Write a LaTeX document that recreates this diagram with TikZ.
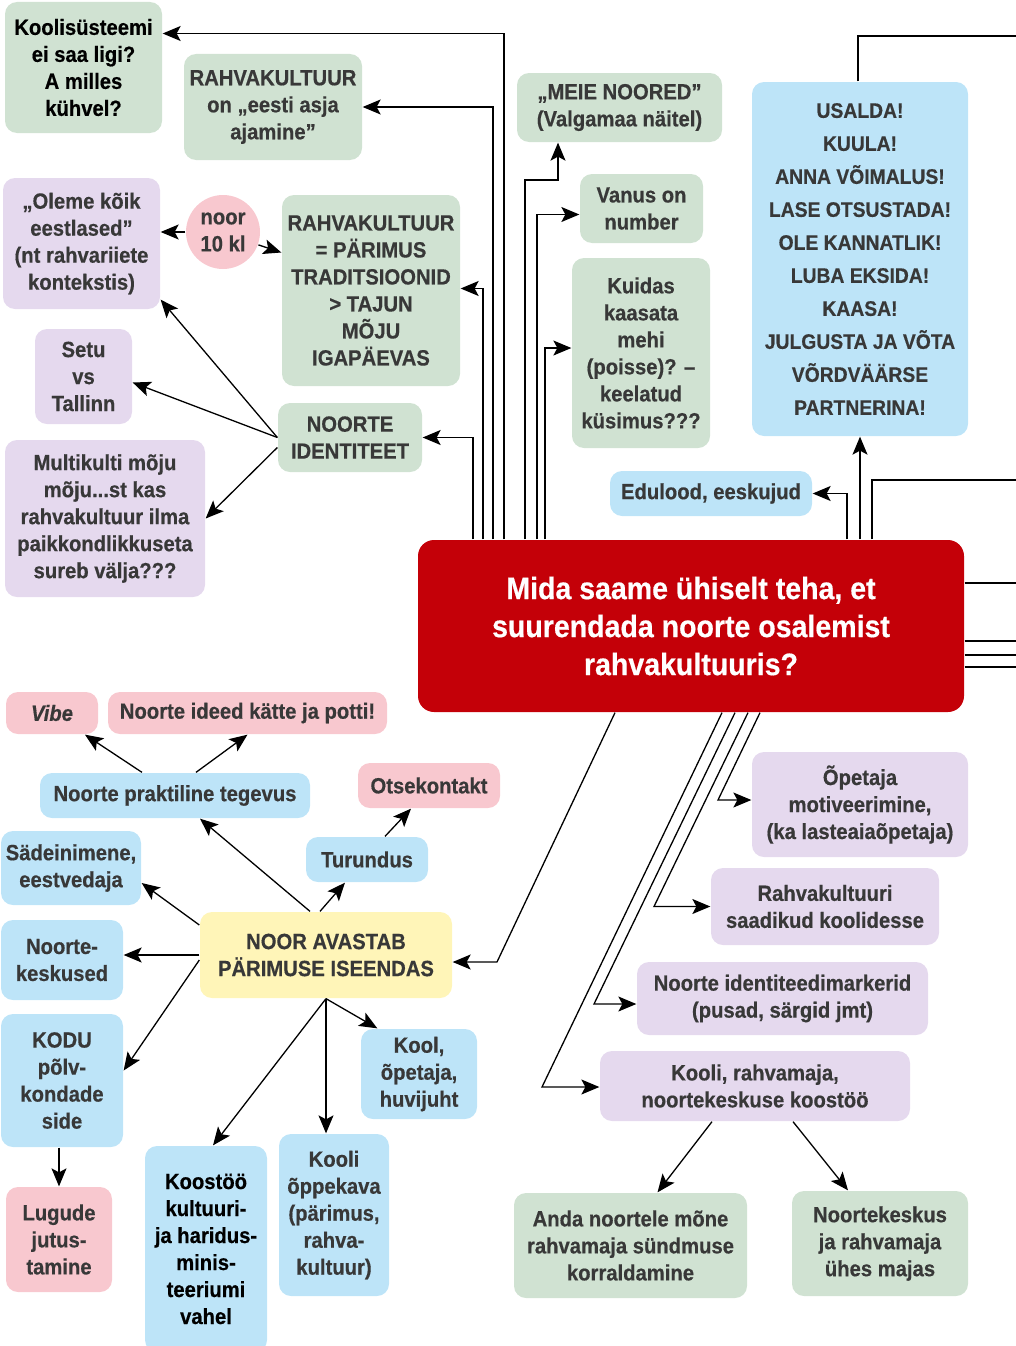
\documentclass[tikz,border=0pt]{standalone}
\usepackage{fontspec}
\setmainfont{Liberation Sans}[FakeStretch=0.92, BoldFeatures={FakeBold=0.5}, BoldItalicFeatures={FakeBold=0.5}]
\usetikzlibrary{arrows.meta}
\definecolor{boxgreen}{HTML}{D0E2D2}
\definecolor{boxpurple}{HTML}{E5D9EE}
\definecolor{boxpink}{HTML}{F8C8CF}
\definecolor{boxblue}{HTML}{BDE4F8}
\definecolor{boxyellow}{HTML}{FFF5B8}
\definecolor{mainred}{HTML}{C40008}
\definecolor{txtgray}{HTML}{383838}
\begin{document}
\begin{tikzpicture}[
    x=1pt,
    y=-1pt,
    -{Stealth[length=18pt,width=15pt,inset=4pt]},
    line width=1.3pt,
    font=\fontsize{22}{27}\selectfont\bfseries,
    sz/.style 2 args={minimum width=#1pt, minimum height=#2pt},
    box/.style={rounded corners=12pt, inner sep=0pt, align=center, text=txtgray},
    gbox/.style={box, fill=boxgreen},
    pbox/.style={box, fill=boxpurple},
    kbox/.style={box, fill=boxpink},
    bbox/.style={box, fill=boxblue},
    ybox/.style={box, fill=boxyellow}
]
\useasboundingbox (0,0) rectangle (1015,1346);
\node[gbox, sz={157}{131}, text=black] (ks) at (83.5,67.5) {Koolisüsteemi\\ei saa ligi?\\A milles\\kühvel?};
\node[gbox, sz={178}{106}] (rke) at (273,107) {RAHVAKULTUUR\\on „eesti asja\\ajamine”};
\node[pbox, sz={157}{131}] (ok) at (81.5,243.5) {„Oleme kõik\\eestlased”\\(nt rahvariiete\\kontekstis)};
\node[circle, fill=boxpink, text=txtgray, minimum size=74pt, inner sep=0pt, align=center] (n10) at (223,232) {noor\\10 kl};
\node[gbox, sz={178}{191}] (rp) at (371,290.5) {RAHVAKULTUUR\\= PÄRIMUS\\TRADITSIOONID\\> TAJUN\\MÕJU\\IGAPÄEVAS};
\node[pbox, sz={97}{95}] (st) at (83.5,376.5) {Setu\\vs\\Tallinn};
\node[gbox, sz={144}{69}] (id) at (350,437.5) {NOORTE\\IDENTITEET};
\node[pbox, sz={200}{157}] (mu) at (105,518.5) {Multikulti mõju\\mõju...st kas\\rahvakultuur ilma\\paikkondlikkuseta\\sureb välja???};
\node[gbox, sz={205}{69}] (mn) at (619.5,107.5) {„MEIE NOORED”\\(Valgamaa näitel)};
\node[gbox, sz={123}{69}] (vn) at (641.5,208.5) {Vanus on\\number};
\node[gbox, sz={138}{190}] (kd) at (641,353) {Kuidas\\kaasata\\mehi\\(poisse)? –\\keelatud\\küsimus???};
\node[bbox, sz={216}{354}, font=\fontsize{21}{33}\selectfont\bfseries] (us) at (860,259) {USALDA!\\KUULA!\\ANNA VÕIMALUS!\\LASE OTSUSTADA!\\OLE KANNATLIK!\\LUBA EKSIDA!\\KAASA!\\JULGUSTA JA VÕTA\\VÕRDVÄÄRSE\\PARTNERINA!};
\node[bbox, sz={202}{45}] (ed) at (711,493.5) {Edulood, eeskujud};
\node[box, fill=mainred, text=white, rounded corners=16pt, sz={546}{172}, font=\fontsize{31}{38}\selectfont\bfseries] (main) at (691,626) {Mida saame ühiselt teha, et\\suurendada noorte osalemist\\rahvakultuuris?};
\node[kbox, sz={92}{42}] (vb) at (52,713) {\itshape Vibe};
\node[kbox, sz={279}{42}] (ni) at (247.5,713) {Noorte ideed kätte ja potti!};
\node[bbox, sz={270}{45}] (pr) at (175,795.5) {Noorte praktiline tegevus};
\node[kbox, sz={142}{45}] (ot) at (429,785.5) {Otsekontakt};
\node[bbox, sz={140}{74}] (se) at (71,868) {Sädeinimene,\\eestvedaja};
\node[bbox, sz={122}{45}] (tu) at (367,859.5) {Turundus};
\node[ybox, sz={252}{86}] (na) at (326,955) {NOOR AVASTAB\\PÄRIMUSE ISEENDAS};
\node[bbox, sz={122}{80}] (nk) at (62,960) {Noorte-\\keskused};
\node[bbox, sz={122}{133}] (ko) at (62,1080.5) {KODU\\põlv-\\kondade\\side};
\node[kbox, sz={106}{105}] (lu) at (59,1239.5) {Lugude\\jutus-\\tamine};
\node[bbox, sz={122}{206}, text=black] (kt) at (206,1249) {Koostöö\\kultuuri-\\ja haridus-\\minis-\\teeriumi\\vahel};
\node[bbox, sz={110}{162}] (kp) at (334,1215) {Kooli\\õppekava\\(pärimus,\\rahva-\\kultuur)};
\node[bbox, sz={116}{90}] (kop) at (419,1074) {Kool,\\õpetaja,\\huvijuht};
\node[pbox, sz={216}{105}] (om) at (860,804.5) {Õpetaja\\motiveerimine,\\(ka lasteaiaõpetaja)};
\node[pbox, sz={228}{77}] (sk) at (825,906.5) {Rahvakultuuri\\saadikud koolidesse};
\node[pbox, sz={291}{73}] (mk) at (782.5,998.5) {Noorte identiteedimarkerid\\(pusad, särgid jmt)};
\node[pbox, sz={310}{70}] (k2) at (755,1086) {Kooli, rahvamaja,\\noortekeskuse koostöö};
\node[gbox, sz={233}{105}] (an) at (630.5,1245.5) {Anda noortele mõne\\rahvamaja sündmuse\\korraldamine};
\node[gbox, sz={176}{105}] (nm) at (880,1243.5) {Noortekeskus\\ja rahvamaja\\ühes majas};
\coordinate (oA) at (1020,480);
\coordinate (oB) at (1020,36);
\coordinate (oC) at (1020,583);
\coordinate (oD) at (1020,641);
\coordinate (oE) at (1020,655);
\coordinate (oF) at (1020,667);
\draw (main.north -| 473,0) |- (id.east);
\draw (main.north -| 483,0) |- ([yshift=2pt]rp.east);
\draw (main.north -| 493,0) |- (rke.east);
\draw (main.north -| 504,0) |- ([yshift=34pt]ks.east);
\draw (main.north -| 525,0) |- (558,180) -- (mn.south -| 558,0);
\draw (main.north -| 537,0) |- ([yshift=-6pt]vn.west);
\draw (main.north -| 545,0) |- ([yshift=5pt]kd.west);
\draw (main.north -| 847,0) |- (ed.east);
\draw (main.north -| us.south) -- (us.south);
\draw[-] (main.north -| 872,0) |- (oA);
\draw[-] (us.north -| 858,0) |- (oB);
\draw[-] (main.east |- oC) -- (oC);
\draw[-] (main.east |- oD) -- (oD);
\draw[-] (main.east |- oE) -- (oE);
\draw[-] (main.east |- oF) -- (oF);
\draw (main.south -| 615,0) -- (497,962) -- ([yshift=-7pt]na.east);
\draw (main.south -| 760,0) -- (718,800) -- ([yshift=4.5pt]om.west);
\draw (main.south -| 748,0) -- (654,906.5) -- (sk.west);
\draw (main.south -| 735,0) -- (594,1004) -- ([yshift=-5.5pt]mk.west);
\draw (main.south -| 722,0) -- (542,1087) -- ([yshift=-1pt]k2.west);
\path
  (id.west) edge ([yshift=10pt]ok.south east)
  (id.west) edge ([yshift=-6pt]st.east)
  ([yshift=-10pt]id.west) edge (mu.east)
  (n10.west) edge (ok.east |- n10.west)
  (n10.-20) edge ([yshift=38pt]rp.west)
  ([xshift=-33pt]pr.north) edge ([xshift=33pt]vb.south)
  ([xshift=21pt]pr.north) edge (ni.south)
  ([xshift=-16pt]na.north) edge ([xshift=25pt]pr.south)
  ([xshift=-6pt]na.north) edge ([xshift=-22pt]tu.south)
  ([xshift=18pt]tu.north) edge ([xshift=-18pt]ot.south)
  ([yshift=30pt]na.west) edge ([yshift=-15pt]se.east)
  (na.west) edge (nk.east |- na.west)
  ([yshift=-5pt]na.west) edge ([yshift=10pt]ko.east)
  (na.south) edge ([xshift=7pt]kt.north)
  (na.south) edge (na.south |- kp.north)
  (na.south) edge ([xshift=17pt]kop.north west)
  (ko.south -| lu.north) edge (lu.north)
  ([xshift=-43pt]k2.south) edge ([xshift=27pt]an.north)
  ([xshift=38pt]k2.south) edge ([xshift=-32pt]nm.north);
\end{tikzpicture}
\end{document}
